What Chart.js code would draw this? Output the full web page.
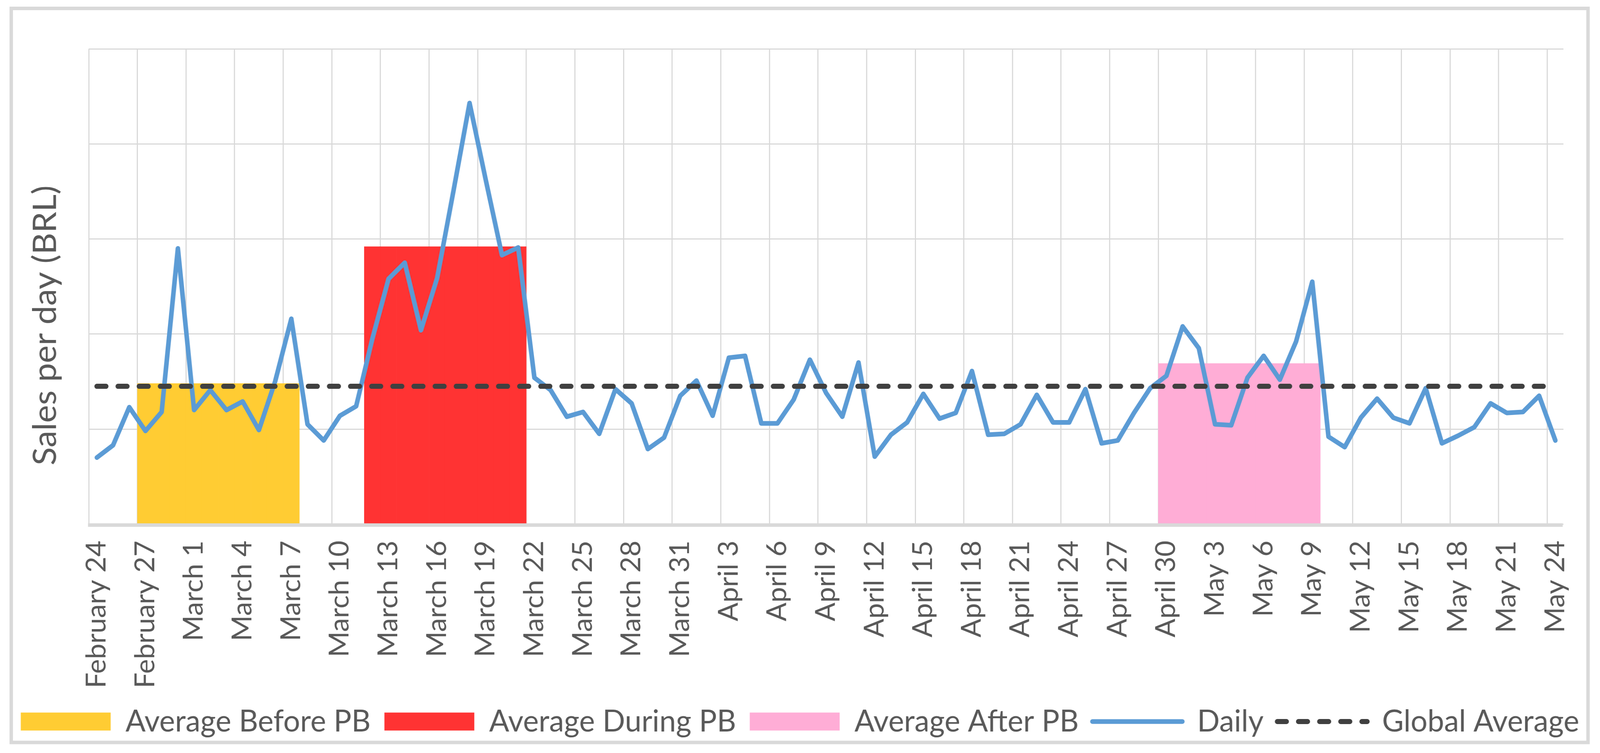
<!DOCTYPE html>
<html>
<head>
<meta charset="utf-8">
<script src="https://cdn.jsdelivr.net/npm/chart.js@4.4.1/dist/chart.umd.min.js"></script>
<style>
  html, body { margin: 0; padding: 0; background: #ffffff; overflow: hidden; }
  #wrap { width: 4201px; height: 1927px; position: absolute; left: 0; top: 0; transform-origin: 0 0; }
</style>
</head>
<body>
<div id="wrap"><canvas id="c"></canvas></div>
<script>
// ---------- data ----------
const categories = [
  'February 24','February 25','February 26','February 27','February 28','February 29',
  'March 1','March 2','March 3','March 4','March 5','March 6','March 7','March 8','March 9','March 10',
  'March 11','March 12','March 13','March 14','March 15','March 16','March 17','March 18','March 19','March 20',
  'March 21','March 22','March 23','March 24','March 25','March 26','March 27','March 28','March 29','March 30','March 31',
  'April 1','April 2','April 3','April 4','April 5','April 6','April 7','April 8','April 9','April 10',
  'April 11','April 12','April 13','April 14','April 15','April 16','April 17','April 18','April 19','April 20',
  'April 21','April 22','April 23','April 24','April 25','April 26','April 27','April 28','April 29','April 30',
  'May 1','May 2','May 3','May 4','May 5','May 6','May 7','May 8','May 9','May 10',
  'May 11','May 12','May 13','May 14','May 15','May 16','May 17','May 18','May 19','May 20',
  'May 21','May 22','May 23','May 24'
];

const tickLabels = [
  'February 24','February 27','March 1','March 4','March 7','March 10','March 13','March 16','March 19',
  'March 22','March 25','March 28','March 31','April 3','April 6','April 9','April 12','April 15','April 18',
  'April 21','April 24','April 27','April 30','May 3','May 6','May 9','May 12','May 15','May 18','May 21','May 24'
];

const dailySales = [
  70, 83, 123, 98, 118, 290,
  120, 141, 120, 129, 99, 150, 216, 105, 88, 114,
  124, 195, 258, 275, 204, 259, 350, 443, 362, 283,
  291, 154, 141, 113, 118, 95, 142, 127, 79, 91, 135,
  151, 114, 175, 177, 106, 106, 131, 173, 138, 113,
  170, 71, 94, 107, 137, 111, 117, 161, 94, 95,
  105, 136, 107, 107, 142, 85, 88, 117, 143, 156,
  208, 185, 105, 104, 154, 177, 152, 192, 255, 92,
  81, 112, 132, 112, 106, 143, 85, 93, 102, 127,
  117, 118, 135, 88
];

const beforeDays = ['February 27','February 28','February 29','March 1','March 2','March 3','March 4','March 5','March 6','March 7'];
const duringDays = ['March 12','March 13','March 14','March 15','March 16','March 17','March 18','March 19','March 20','March 21'];
const afterDays  = ['April 30','May 1','May 2','May 3','May 4','May 5','May 6','May 7','May 8','May 9'];

const averageBefore = 148;
const averageDuring = 292;
const averageAfter  = 169;
const globalAverage = 145;

// ---------- style ----------
const TEXT = '#595959';
const GRID = '#d9d9d9';
const FONT = 'Lato';

// fit the fixed 4201x1927 drawing into whatever viewport the browser really has
(function fitToViewport() {
  const w = window.innerWidth || 4201;
  const h = window.innerHeight || 1927;
  document.getElementById('wrap').style.transform = 'scale(' + (w / 4201) + ',' + (h / 1927) + ')';
})();

const decor = {
  id: 'decor',
  beforeDraw(chart) {
    const { ctx, width, height } = chart;
    ctx.save();
    ctx.fillStyle = '#ffffff';
    ctx.fillRect(0, 0, width, height);
    ctx.strokeStyle = GRID;
    ctx.lineWidth = 9;
    ctx.strokeRect(29.5, 21.5, width - 61, height - 48.5);
    ctx.restore();
  },
  afterDatasetsDraw(chart) {
    const { ctx, chartArea: a } = chart;
    ctx.save();
    ctx.fillStyle = GRID;
    ctx.fillRect(a.left - 2, a.bottom - 2, a.right - a.left, 9);
    ctx.restore();
  },
  afterDraw(chart) {
    const { ctx, chartArea: a } = chart;
    ctx.save();
    ctx.translate(119, a.top + (a.bottom - a.top) * 0.582);
    ctx.rotate(-Math.PI / 2);
    ctx.font = '86px ' + FONT;
    ctx.fillStyle = TEXT;
    ctx.textAlign = 'center';
    ctx.textBaseline = 'middle';
    ctx.fillText('Sales per day (BRL)', 0, 0);
    ctx.restore();
  }
};

const barCommon = { type: 'bar', barPercentage: 1, categoryPercentage: 1, grouped: false, borderWidth: 0, order: 3 };

function build() {
  new Chart(document.getElementById('c'), {
    type: 'bar',
    data: {
      labels: categories,
      datasets: [
        Object.assign({}, barCommon, { label: 'Average Before PB', backgroundColor: '#FFCC33',
          data: beforeDays.map(d => ({ x: d, y: averageBefore })) }),
        Object.assign({}, barCommon, { label: 'Average During PB', backgroundColor: '#FF3333',
          data: duringDays.map(d => ({ x: d, y: averageDuring })) }),
        Object.assign({}, barCommon, { label: 'Average After PB', backgroundColor: '#FFADD6',
          data: afterDays.map(d => ({ x: d, y: averageAfter })) }),
        { type: 'line', label: 'Daily', data: dailySales, borderColor: '#5B9BD5', backgroundColor: '#5B9BD5',
          borderWidth: 12, pointRadius: 0, tension: 0, fill: false, borderJoinStyle: 'round', borderCapStyle: 'round', order: 2 },
        { type: 'line', label: 'Global Average', data: categories.map(d => ({ x: d, y: globalAverage })),
          borderColor: '#404040', backgroundColor: '#404040', borderWidth: 13, borderDash: [24, 31.5],
          borderCapStyle: 'round', pointRadius: 0, tension: 0, fill: false, order: 1 }
      ]
    },
    options: {
      responsive: true,
      maintainAspectRatio: false,
      animation: false,
      devicePixelRatio: 1,
      layout: { padding: { top: 125, left: 0, right: 0, bottom: 31.5 } },
      plugins: {
        tooltip: { enabled: false },
        legend: {
          position: 'bottom',
          labels: {
            font: { family: FONT, size: 78 },
            color: TEXT,
            usePointStyle: true,
            pointStyleWidth: 236,
            boxHeight: 46,
            padding: 36,
            generateLabels: chart => chart.data.datasets.map((ds, i) => {
              const isLine = ds.type === 'line';
              return {
                text: ds.label,
                fillStyle: isLine ? 'rgba(0,0,0,0)' : ds.backgroundColor,
                strokeStyle: isLine ? ds.borderColor : 'rgba(0,0,0,0)',
                lineWidth: isLine ? ds.borderWidth : 0,
                lineDash: ds.borderDash || [],
                lineCap: isLine ? 'round' : 'butt',
                pointStyle: isLine ? 'line' : 'rect',
                fontColor: TEXT,
                hidden: false,
                datasetIndex: i
              };
            })
          }
        }
      },
      scales: {
        x: {
          type: 'category',
          offset: true,
          grid: {
            offset: true,
            color: c => (c.index % 3 === 0 ? GRID : 'rgba(0,0,0,0)'),
            lineWidth: 3,
            drawTicks: false
          },
          border: { display: false },
          ticks: {
            autoSkip: false,
            minRotation: 90,
            maxRotation: 90,
            padding: 42,
            color: TEXT,
            font: { family: FONT, size: 71 },
            callback: (v, i) => (tickLabels.includes(categories[i]) ? categories[i] : '')
          },
          afterFit: s => { s.height = 430.25; s.paddingLeft = 0; s.paddingRight = 0; }
        },
        y: {
          type: 'linear',
          min: 0,
          max: 500,
          ticks: { display: false, stepSize: 100 },
          grid: { color: GRID, lineWidth: 3, drawTicks: false },
          border: { display: false },
          afterFit: s => { s.width = 233; }
        },
        y2: {
          type: 'linear',
          position: 'right',
          grid: { display: false },
          ticks: { display: false },
          border: { display: false },
          afterFit: s => { s.width = 96; }
        }
      }
    },
    plugins: [decor]
  });
}

if (document.fonts && document.fonts.load) {
  Promise.all([document.fonts.load('78px Lato'), document.fonts.load('86px Lato')]).then(build, build);
} else {
  build();
}
</script>
</body>
</html>
